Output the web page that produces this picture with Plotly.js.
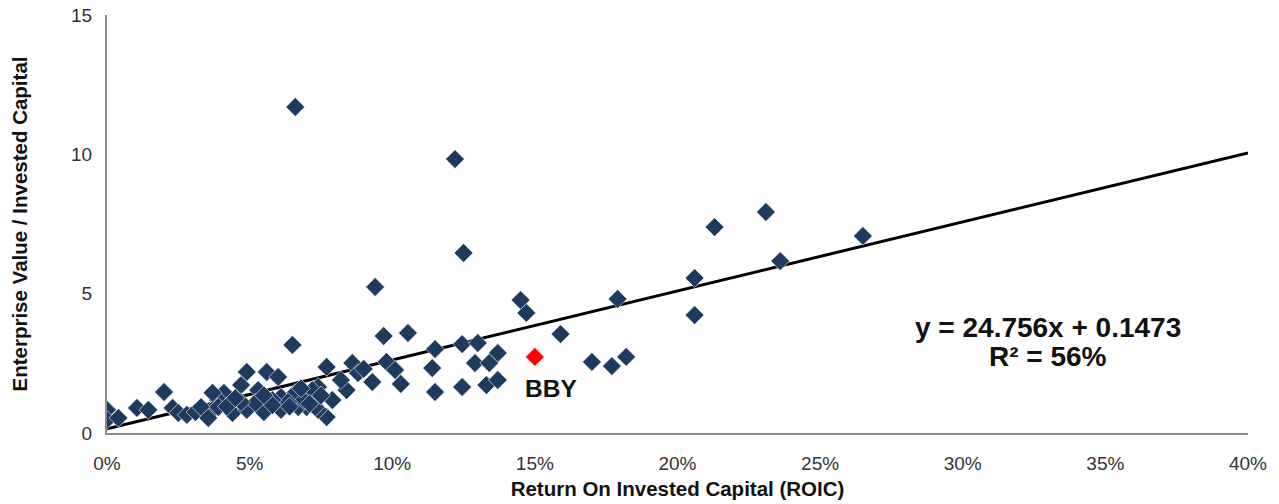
<!DOCTYPE html>
<html>
<head>
<meta charset="utf-8">
<script src="https://cdn.plot.ly/plotly-3.0.1.min.js"></script>
<style>
  html, body { margin: 0; padding: 0; background: #ffffff; }
  #chart { width: 1279px; height: 504px; }
</style>
</head>
<body>
<div id="chart"></div>
<script>
// Peer companies: Return on Invested Capital vs Enterprise Value / Invested Capital
const roic = [
  0.066, 0.122, 0.125, 0.094, 0.231, 0.213, 0.265, 0.236, 0.206, 0.206,
  0.179, 0.145, 0.147, 0.159, 0.170, 0.177, 0.182, 0.1055, 0.115, 0.1245,
  0.130, 0.137, 0.129, 0.134, 0.114, 0.115, 0.1245, 0.133, 0.137, 0.103,
  0.097, 0.065, 0.077, 0.086, 0.088, 0.093, 0.098, 0.101, 0.084, 0.079,
  0.074, 0.077, 0.067, 0.070, 0.074, 0.049, 0.056, 0.060, 0.047, 0.053,
  0.041, 0.039, 0.061, 0.066, 0.072, 0.073, 0.044, 0.049, 0.055, 0.061,
  0.067, 0.069, 0.0635, 0.058, 0.052, 0.047, 0.038, 0.000, 0.000, 0.004,
  0.0105, 0.0145, 0.020, 0.023, 0.025, 0.028, 0.031, 0.033, 0.0355, 0.037,
  0.039, 0.082, 0.090, 0.058, 0.064, 0.071, 0.042, 0.045, 0.055, 0.068,
  0.075
];
const evic = [
  11.70, 9.83, 6.46, 5.24, 7.93, 7.39, 7.07, 6.17, 5.56, 4.23,
  4.81, 4.77, 4.31, 3.55, 2.55, 2.40, 2.73, 3.59, 3.01, 3.19,
  3.23, 2.87, 2.51, 2.51, 2.33, 1.47, 1.65, 1.72, 1.90, 1.76,
  3.48, 3.16, 2.37, 2.51, 2.15, 1.83, 2.55, 2.26, 1.54, 1.18,
  1.65, 0.57, 1.29, 0.93, 0.83, 2.19, 2.19, 2.01, 1.72, 1.54,
  1.44, 1.18, 1.29, 1.44, 1.54, 0.93, 0.72, 0.83, 0.75, 0.83,
  0.93, 1.18, 1.11, 1.18, 1.08, 1.11, 0.93, 0.83, 0.47, 0.54,
  0.90, 0.83, 1.47, 0.90, 0.72, 0.65, 0.75, 0.93, 0.54, 1.44,
  0.93, 1.90, 2.30, 1.00, 0.95, 1.05, 0.95, 1.25, 1.35, 1.60,
  1.35
];
const bbyName = "BBY";
const bbyRoic = [0.150];
const bbyEvic = [2.73];

// Linear trendline reported on the chart
const slope = 24.756;
const intercept = 0.1473;
const rSquaredText = "56%";
const trendX = [0, 0.40];
const trendY = trendX.map(x => slope * x + intercept);

const xTicks = [0, 0.05, 0.10, 0.15, 0.20, 0.25, 0.30, 0.35, 0.40];
const xTickText = ["0%", "5%", "10%", "15%", "20%", "25%", "30%", "35%", "40%"];
const yTicks = [0, 5, 10, 15];

const FONT = "Liberation Sans, Arial, sans-serif";

const traces = [
  {
    x: trendX, y: trendY, type: "scatter", mode: "lines",
    line: { color: "#000000", width: 3 }, hoverinfo: "skip", showlegend: false
  },
  {
    x: roic, y: evic, type: "scatter", mode: "markers",
    marker: { symbol: "diamond", size: 14.5, color: "#1F3A5F",
              line: { width: 0.6, color: "#ffffff" } },
    showlegend: false
  },
  {
    x: bbyRoic, y: bbyEvic, type: "scatter", mode: "markers",
    marker: { symbol: "diamond", size: 14.5, color: "#FF0000",
              line: { width: 0.6, color: "#ffffff" } },
    showlegend: false
  }
];

const layout = {
  width: 1279, height: 504,
  margin: { l: 107, r: 31, t: 15, b: 71 },
  paper_bgcolor: "#ffffff", plot_bgcolor: "#ffffff",
  font: { family: FONT, size: 19, color: "#333333" },
  showlegend: false,
  xaxis: {
    range: [0, 0.40], tickvals: xTicks, ticktext: xTickText,
    showgrid: false, zeroline: false, showline: true,
    linecolor: "#8c8c8c", linewidth: 2, ticks: "",
    ticklabelstandoff: 12,
    tickfont: { family: FONT, size: 19, color: "#333333" },
    title: { text: "<b>Return On Invested Capital (ROIC)</b>",
             font: { family: FONT, size: 20.5, color: "#111111" }, standoff: 9 }
  },
  yaxis: {
    range: [0, 15], tickvals: yTicks,
    showgrid: false, zeroline: false, showline: true,
    linecolor: "#8c8c8c", linewidth: 2, ticks: "",
    ticklabelstandoff: 9,
    tickfont: { family: FONT, size: 19, color: "#333333" },
    title: { text: "<b>Enterprise Value / Invested Capital</b>",
             font: { family: FONT, size: 20.5, color: "#111111" }, standoff: 38 }
  },
  annotations: [
    {
      x: bbyRoic[0] + 0.0055, y: bbyEvic[0] - 1.12, xref: "x", yref: "y",
      text: "<b>" + bbyName + "</b>", showarrow: false,
      font: { family: FONT, size: 24.5, color: "#111111" }
    },
    {
      x: 0.330, y: 3.80, xref: "x", yref: "y",
      text: "<b>y = " + slope + "x + " + intercept + "</b>", showarrow: false,
      font: { family: FONT, size: 28, color: "#111111" }
    },
    {
      x: 0.330, y: 2.73, xref: "x", yref: "y",
      text: "<b>R² = " + rSquaredText + "</b>", showarrow: false,
      font: { family: FONT, size: 28, color: "#111111" }
    }
  ]
};

Plotly.newPlot("chart", traces, layout, { displayModeBar: false, staticPlot: true });
</script>
</body>
</html>
